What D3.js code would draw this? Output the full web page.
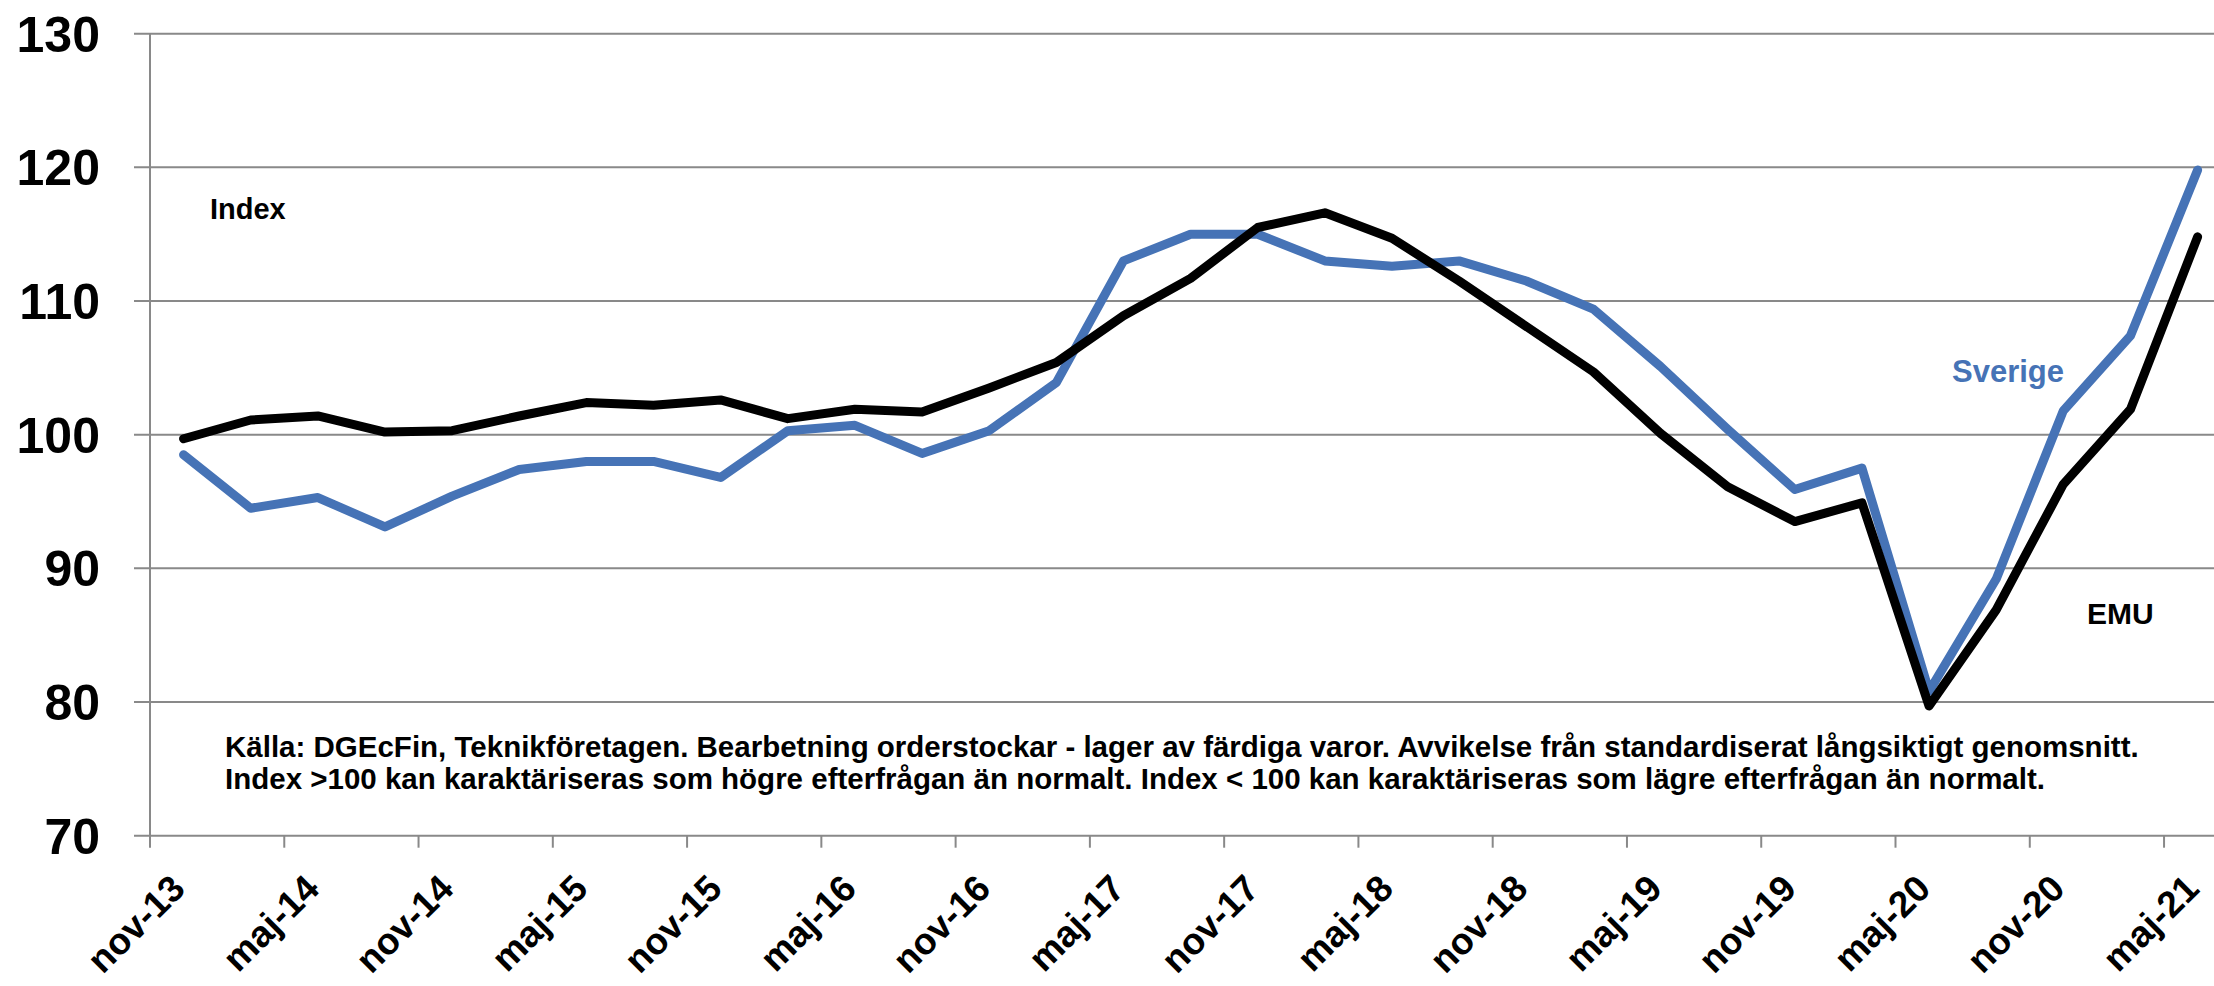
<!DOCTYPE html>
<html>
<head>
<meta charset="utf-8">
<script src="https://cdn.jsdelivr.net/npm/d3@7"></script>
<style>
  html, body { margin: 0; padding: 0; background: #ffffff; }
  svg { display: block; }
  text { font-family: "Liberation Sans", Arial, sans-serif; font-weight: bold; }
</style>
</head>
<body>
<svg id="chart" width="2214" height="986"></svg>
<script>
// Quarterly observations (year-month)
const periods = [
  "2013-12","2014-03","2014-06","2014-09","2014-12","2015-03","2015-06","2015-09",
  "2015-12","2016-03","2016-06","2016-09","2016-12","2017-03","2017-06","2017-09",
  "2017-12","2018-03","2018-06","2018-09","2018-12","2019-03","2019-06","2019-09",
  "2019-12","2020-03","2020-06","2020-09","2020-12","2021-03","2021-06"
];
const sverige = [
  98.5, 94.5, 95.3, 93.1, 95.4, 97.4, 98.0, 98.0,
  96.8, 100.3, 100.7, 98.6, 100.3, 103.9, 113.0, 115.0,
  115.0, 113.0, 112.6, 113.0, 111.5, 109.4, 105.1, 100.4,
  95.9, 97.5, 80.8, 89.2, 101.8, 107.4, 119.8
];
const emu = [
  99.7, 101.1, 101.4, 100.2, 100.3, 101.4, 102.4, 102.2,
  102.6, 101.2, 101.9, 101.7, 103.5, 105.4, 108.9, 111.7,
  115.5, 116.6, 114.7, 111.5, 108.1, 104.7, 100.1, 96.1,
  93.5, 94.9, 79.7, 86.9, 96.3, 101.9, 114.8
];
const tickLabels = [
  "nov-13","maj-14","nov-14","maj-15","nov-15","maj-16","nov-16","maj-17",
  "nov-17","maj-18","nov-18","maj-19","nov-19","maj-20","nov-20","maj-21"
];
const yTicks = [70, 80, 90, 100, 110, 120, 130];
const footnote = [
  "Källa: DGEcFin, Teknikföretagen. Bearbetning orderstockar - lager av färdiga varor. Avvikelse från standardiserat långsiktigt genomsnitt.",
  "Index >100 kan karaktäriseras som högre efterfrågan än normalt. Index < 100 kan karaktäriseras som lägre efterfrågan än normalt."
];

// month index relative to Nov 2013 (slot start)
function monthIndex(p) {
  const [y, m] = p.split("-").map(Number);
  return (y - 2013) * 12 + (m - 11);
}

const svg = d3.select("#chart");
const plotLeft = 150, plotRight = 2214;
const x = d3.scaleLinear().domain([0, 92]).range([150, 2208.8]);
const y = d3.scaleLinear().domain([70, 130]).range([835.7, 33.7]);
const gridColor = "#898989";

// horizontal gridlines (+ left tick stubs)
svg.append("g").selectAll("line").data(yTicks).join("line")
  .attr("x1", 134).attr("x2", plotRight)
  .attr("y1", d => y(d)).attr("y2", d => y(d))
  .attr("stroke", gridColor).attr("stroke-width", 2);

// vertical axis line
svg.append("line")
  .attr("x1", plotLeft).attr("x2", plotLeft)
  .attr("y1", y(130)).attr("y2", y(70))
  .attr("stroke", gridColor).attr("stroke-width", 2);

// x ticks every 6 months
const xTickIdx = tickLabels.map((_, i) => i * 6);
svg.append("g").selectAll("line").data(xTickIdx).join("line")
  .attr("x1", d => x(d)).attr("x2", d => x(d))
  .attr("y1", y(70)).attr("y2", y(70) + 12)
  .attr("stroke", gridColor).attr("stroke-width", 2);

// y tick labels
svg.append("g").selectAll("text").data(yTicks).join("text")
  .attr("x", 100).attr("y", d => y(d))
  .attr("dy", "0.36em")
  .attr("text-anchor", "end")
  .attr("font-size", 50)
  .attr("fill", "#000")
  .text(d => d);

// x tick labels rotated -45
svg.append("g").selectAll("text").data(tickLabels).join("text")
  .attr("text-anchor", "end")
  .attr("font-size", 37)
  .attr("fill", "#000")
  .attr("transform", (d, i) => `translate(${x(i * 6) + 37},${y(70) + 55}) rotate(-45)`)
  .text(d => d);

// lines
const line = d3.line()
  .x((d, i) => x(monthIndex(periods[i]) + 0.5))
  .y(d => y(d));

svg.append("path").datum(sverige)
  .attr("d", line)
  .attr("fill", "none").attr("stroke", "#4673b6").attr("stroke-width", 9)
  .attr("stroke-linejoin", "round").attr("stroke-linecap", "round");

svg.append("path").datum(emu)
  .attr("d", line)
  .attr("fill", "none").attr("stroke", "#000000").attr("stroke-width", 9)
  .attr("stroke-linejoin", "round").attr("stroke-linecap", "round");

// annotations
svg.append("text").attr("x", 210).attr("y", 219).attr("font-size", 29).attr("fill", "#000").text("Index");
svg.append("text").attr("x", 1952).attr("y", 382).attr("font-size", 31).attr("fill", "#4673b6").text("Sverige");
svg.append("text").attr("x", 2087).attr("y", 624).attr("font-size", 30).attr("fill", "#000").text("EMU");

// footnote
svg.append("g").selectAll("text").data(footnote).join("text")
  .attr("x", 225)
  .attr("y", (d, i) => 757 + i * 32)
  .attr("font-size", 29.5)
  .attr("fill", "#000")
  .text(d => d);
</script>
</body>
</html>
